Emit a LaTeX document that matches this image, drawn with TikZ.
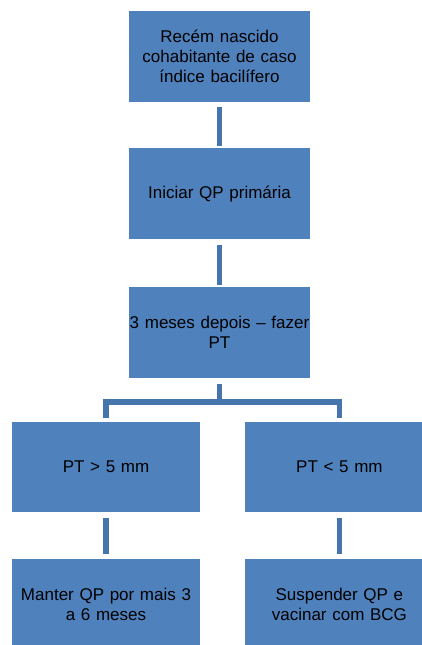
\documentclass[tikz,border=0pt]{standalone}
\usepackage{fontspec}
\setmainfont{Liberation Sans}
\usetikzlibrary{positioning,calc}
\definecolor{caixaazul}{HTML}{4F81BD}
\definecolor{linhaazul}{HTML}{4674AD}

\begin{document}
\begin{tikzpicture}[x=1pt, y=-1pt,
            caixa/.style={rectangle, fill=caixaazul, draw=none, text=black,
            minimum width=181pt, minimum height=91pt, inner sep=1pt,
            text width=179pt, align=center, font=\fontsize{17}{20}\selectfont},
            baixa/.style={caixa, minimum width=188pt, minimum height=90pt, text width=186pt},
            conector/.style={draw=linhaazul, line width=5.5pt},
            node distance=46pt]
            \useasboundingbox (0,0) rectangle (421,645);

            \node (recem) [caixa] at (219.5,56.5) {Recém nascido\\ cohabitante de caso\\ índice bacilífero};
            \node (iniciar) [caixa, below=of recem] {Iniciar QP primária};
            \node (meses) [caixa, below=47pt of iniciar] {\makebox[179pt]{3 meses depois -- fazer}\\ PT};

            \node (ptmaior) [baixa] at (106,467) {PT > 5 mm};
            \node (ptmenor) [baixa, right=45pt of ptmaior] {PT < 5 mm};
            \node (manter) [baixa, below=47pt of ptmaior] {Manter QP por mais 3\\ a 6 meses};
            \node (suspender) [baixa, below=47pt of ptmenor] {Suspender QP e\\ vacinar com BCG};

            \coordinate (barra) at ([yshift=-24pt]meses.south);

            \draw [conector, shorten <=5pt, shorten >=2pt] (recem) -- (iniciar);
            \draw [conector, shorten <=5pt, shorten >=2pt] (iniciar) -- (meses);
            \draw [conector] ([yshift=-6pt]meses.south) -- (barra);
            \draw [conector] ([yshift=4pt]ptmaior.north) |- (barra) -| ([yshift=4pt]ptmenor.north);
            \draw [conector, shorten <=6pt, shorten >=5pt] (ptmaior) -- (manter);
            \draw [conector, shorten <=6pt, shorten >=5pt] (ptmenor) -- (suspender);
        \end{tikzpicture}
\end{document}
